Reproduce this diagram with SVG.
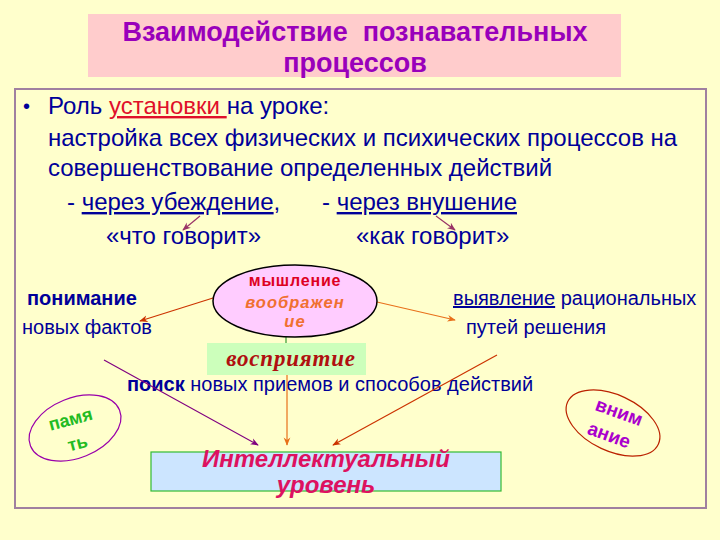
<svg xmlns="http://www.w3.org/2000/svg" width="720" height="540" viewBox="0 0 720 540">
<defs>
<style>
.t{font-family:"Liberation Sans",Arial,sans-serif;fill:#000099}
.b{font-weight:bold}
.u{text-decoration:underline}
.s{font-family:"Liberation Sans",Arial,sans-serif;font-weight:bold}
</style>
<marker id="aP" viewBox="0 0 10 10" refX="9" refY="5" markerWidth="7" markerHeight="7" orient="auto"><path d="M0,1 L10,5 L0,9 L3,5 z" fill="#993366"/></marker>
<marker id="aR" viewBox="0 0 10 10" refX="9" refY="5" markerWidth="7" markerHeight="7" orient="auto"><path d="M0,1 L10,5 L0,9 L3,5 z" fill="#CC3300"/></marker>
<marker id="aO" viewBox="0 0 10 10" refX="9" refY="5" markerWidth="7" markerHeight="7" orient="auto"><path d="M0,1 L10,5 L0,9 L3,5 z" fill="#E8701A"/></marker>
<marker id="aV" viewBox="0 0 10 10" refX="9" refY="5" markerWidth="7" markerHeight="7" orient="auto"><path d="M0,1 L10,5 L0,9 L3,5 z" fill="#800080"/></marker>
</defs>
<rect width="720" height="540" fill="#FFFFCC"/>
<g id="title">
<rect x="88" y="14" width="533" height="63" fill="#FFCCCC"/>
<text x="355" y="41" text-anchor="middle" class="s" style="font-size:27px;fill:#9900BB" xml:space="preserve">Взаимодействие  познавательных</text>
<text x="355" y="72" text-anchor="middle" class="s" style="font-size:27px;fill:#9900BB">процессов</text>
</g>
<rect x="15" y="89" width="691" height="419" fill="none" stroke="#A080A0" stroke-width="2"/>
<g id="body" class="t" font-size="24">
<text x="23" y="113" font-size="20">•</text>
<text x="48" y="114" xml:space="preserve">Роль <tspan fill="#E0102A" class="u">установки </tspan>на уроке:</text>
<text x="48" y="146">настройка всех физических и психических процессов на</text>
<text x="48" y="176">совершенствование определенных действий</text>
<text x="67" y="210" xml:space="preserve">- <tspan class="u">через убеждение</tspan>,</text>
<text x="322" y="210" xml:space="preserve">- <tspan class="u">через внушение</tspan></text>
<text x="106" y="244">«что говорит»</text>
<text x="356" y="244">«как говорит»</text>
</g>
<g id="left-text" class="t" font-size="20">
<text x="27" y="305" class="b">понимание</text>
<text x="22" y="334">новых фактов</text>
</g>
<g id="right-text" class="t" font-size="20">
<text x="453" y="305" xml:space="preserve"><tspan class="u">выявление</tspan> рациональных</text>
<text x="466" y="334">путей решения</text>
</g>
<g id="search" class="t" font-size="20">
<text x="127" y="391" xml:space="preserve"><tspan class="b">поиск</tspan> новых приемов и способов действий</text>
</g>
<g id="connectors" fill="none" stroke-width="1.2">
<line x1="200" y1="216" x2="183" y2="230" stroke="#993366" marker-end="url(#aP)"/>
<line x1="436" y1="216" x2="455" y2="230" stroke="#993366" marker-end="url(#aP)"/>
<line x1="213" y1="298" x2="140" y2="321" stroke="#CC3300" marker-end="url(#aR)"/>
<line x1="377" y1="302" x2="455" y2="320" stroke="#E8701A" marker-end="url(#aO)"/>
<line x1="286" y1="337" x2="286" y2="343" stroke="#339933"/>
<line x1="104" y1="360" x2="258" y2="445" stroke="#800080" marker-end="url(#aV)"/>
<line x1="287" y1="375" x2="287" y2="445" stroke="#E8701A" marker-end="url(#aO)"/>
<line x1="497" y1="355" x2="333" y2="445" stroke="#CC3300" marker-end="url(#aR)"/>
</g>
<g id="thinking">
<ellipse cx="295" cy="301" rx="82" ry="36" fill="#FFCCFF" stroke="#000" stroke-width="1.5"/>
<text x="295" y="286" text-anchor="middle" class="s" style="font-size:16px;fill:#DD0022;letter-spacing:0.8px">мышление</text>
<text x="295" y="308" text-anchor="middle" class="s" style="font-size:16.5px;font-style:italic;fill:#F07030;letter-spacing:1px">воображен</text>
<text x="295" y="327" text-anchor="middle" class="s" style="font-size:16.5px;font-style:italic;fill:#F07030;letter-spacing:1px">ие</text>
</g>
<g id="perception">
<rect x="207" y="343" width="159" height="32" fill="#CCFFBB"/>
<text x="291" y="366" text-anchor="middle" style="font-family:'Liberation Serif','Times New Roman',serif;font-size:23px;font-weight:bold;font-style:italic;fill:#B01010;letter-spacing:0.8px">восприятие</text>
</g>
<g id="memory">
<ellipse cx="75" cy="428" rx="48" ry="30" transform="rotate(-22 75 428)" fill="none" stroke="#9900AA" stroke-width="1.2"/>
<text x="72" y="425" text-anchor="middle" transform="rotate(-15 72 425)" class="s" style="font-size:18px;fill:#22BB22">памя</text>
<text x="79" y="449" text-anchor="middle" transform="rotate(-15 79 449)" class="s" style="font-size:18px;fill:#22BB22">ть</text>
</g>
<g id="attention">
<ellipse cx="613" cy="423" rx="50" ry="28" transform="rotate(25 613 423)" fill="none" stroke="#BB2200" stroke-width="1.2"/>
<text x="617" y="418" text-anchor="middle" transform="rotate(20 617 418)" class="s" style="font-size:19px;fill:#AA00CC">вним</text>
<text x="607" y="441" text-anchor="middle" transform="rotate(20 607 441)" class="s" style="font-size:19px;fill:#AA00CC">ание</text>
</g>
<g id="intellect">
<rect x="151" y="452" width="350" height="39" fill="#CCE5FF" stroke="#33BB33" stroke-width="1.2"/>
<text x="326" y="467" text-anchor="middle" class="s" style="font-size:24px;font-style:italic;fill:#DD1160">Интеллектуальный</text>
<text x="326" y="493" text-anchor="middle" class="s" style="font-size:24px;font-style:italic;fill:#DD1160">уровень</text>
</g>
</svg>
